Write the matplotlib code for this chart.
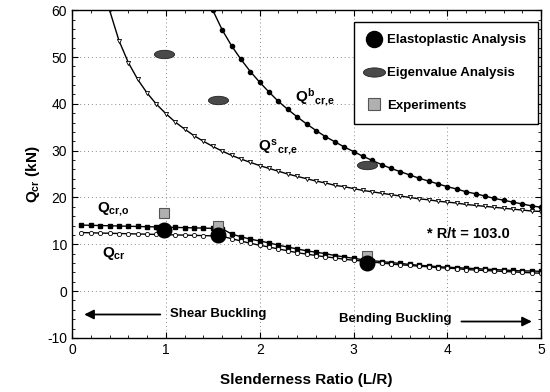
import numpy as np
import matplotlib
matplotlib.use('Agg')
import matplotlib.pyplot as plt
from matplotlib.path import Path
from matplotlib.transforms import Affine2D

plt.rcParams['font.family'] = ['Liberation Sans', 'DejaVu Sans']
plt.rcParams['mathtext.fontset'] = 'custom'
plt.rcParams['mathtext.rm'] = 'Liberation Sans:bold'
plt.rcParams['mathtext.it'] = 'Liberation Sans:bold'
plt.rcParams['mathtext.bf'] = 'Liberation Sans:bold'
plt.rcParams['axes.unicode_minus'] = False

# elastic shear buckling curve
xs = [0.4, 0.5, 0.6, 0.7, 0.8, 0.9, 1.0, 1.1, 1.2, 1.3, 1.4, 1.5, 1.6, 1.7, 1.8, 1.9,
      2.0, 2.1, 2.2, 2.3, 2.4, 2.5, 2.6, 2.7, 2.8, 2.9, 3.0, 3.1, 3.2, 3.3, 3.4, 3.5,
      3.6, 3.7, 3.8, 3.9, 4.0, 4.1, 4.2, 4.3, 4.4, 4.5, 4.6, 4.7, 4.8, 4.9, 5.0]
q_shear = [60.0, 53.5, 48.8, 45.2, 42.3, 39.9, 37.9, 36.1, 34.6, 33.2, 32.0, 30.9, 29.9,
           29.0, 28.2, 27.5, 26.8, 26.2, 25.6, 25.0, 24.5, 24.0, 23.5, 23.1, 22.6, 22.3,
           21.9, 21.5, 21.2, 20.9, 20.6, 20.3, 20.0, 19.7, 19.5, 19.2, 19.0, 18.8, 18.5,
           18.3, 18.1, 17.9, 17.7, 17.5, 17.3, 17.1, 17.0]

# elastic bending buckling curve
xb = [1.5, 1.6, 1.7, 1.8, 1.9, 2.0, 2.1, 2.2, 2.3, 2.4, 2.5, 2.6, 2.7, 2.8, 2.9, 3.0,
      3.1, 3.2, 3.3, 3.4, 3.5, 3.6, 3.7, 3.8, 3.9, 4.0, 4.1, 4.2, 4.3, 4.4, 4.5, 4.6,
      4.7, 4.8, 4.9, 5.0]
q_bend = [60.0, 55.8, 52.4, 49.5, 46.9, 44.6, 42.5, 40.5, 38.8, 37.2, 35.7, 34.3, 33.0,
          31.9, 30.8, 29.8, 28.8, 27.9, 27.0, 26.2, 25.5, 24.8, 24.1, 23.5, 22.9, 22.3,
          21.8, 21.2, 20.8, 20.3, 19.8, 19.4, 19.0, 18.6, 18.2, 17.9]

# inelastic curves
xl = [0.1, 0.2, 0.3, 0.4, 0.5, 0.6, 0.7, 0.8, 0.9, 1.0, 1.1, 1.2, 1.3, 1.4, 1.5, 1.6,
      1.7, 1.8, 1.9, 2.0, 2.1, 2.2, 2.3, 2.4, 2.5, 2.6, 2.7, 2.8, 2.9, 3.0, 3.1, 3.2,
      3.3, 3.4, 3.5, 3.6, 3.7, 3.8, 3.9, 4.0, 4.1, 4.2, 4.3, 4.4, 4.5, 4.6, 4.7, 4.8,
      4.9, 5.0]
q_cro = [14.1, 14.05, 14.0, 13.95, 13.9, 13.85, 13.8, 13.75, 13.7, 13.65, 13.6, 13.55,
         13.5, 13.45, 13.4, 13.3, 12.2, 11.6, 11.1, 10.7, 10.3, 9.8, 9.4, 9.0, 8.6, 8.3,
         8.0, 7.6, 7.3, 7.0, 6.7, 6.5, 6.3, 6.1, 5.9, 5.7, 5.5, 5.4, 5.2, 5.1, 5.0, 4.9,
         4.8, 4.7, 4.6, 4.5, 4.4, 4.3, 4.3, 4.2]
q_cr = [12.5, 12.45, 12.4, 12.35, 12.3, 12.25, 12.2, 12.15, 12.1, 12.05, 12.0, 11.95,
        11.9, 11.85, 11.8, 11.7, 11.2, 10.7, 10.2, 9.8, 9.4, 9.0, 8.6, 8.2, 7.9, 7.6,
        7.3, 7.1, 6.8, 6.6, 6.4, 6.2, 6.0, 5.8, 5.6, 5.5, 5.3, 5.2, 5.0, 4.9, 4.8, 4.6,
        4.5, 4.4, 4.3, 4.2, 4.1, 4.0, 3.9, 3.8]

# discrete results
pt_x = [0.98, 1.56, 3.14]
elastoplastic = [13.1, 11.9, 6.0]
eigenvalue = [50.7, 40.9, 26.9]
experiments = [16.6, 13.8, 7.5]

ellipse = Path.unit_circle().transformed(Affine2D().scale(2.4, 1.0))

fig = plt.figure(figsize=(5.5, 3.92), dpi=100)
ax = fig.add_axes([0.131, 0.138, 0.853, 0.836])

ax.plot(xs, q_shear, '-', color='black', lw=1.0, marker='v', ms=3.0,
        mfc='white', mec='black', mew=0.6)
ax.plot(xb, q_bend, '-', color='black', lw=1.0, marker='o', ms=3.0,
        mfc='black', mec='black')
ax.plot(xl, q_cro, '-', color='black', lw=1.0, marker='s', ms=2.8,
        mfc='black', mec='black')
ax.plot(xl, q_cr, '-', color='black', lw=1.0, marker='o', ms=3.0,
        mfc='white', mec='black', mew=0.6)

ax.plot(pt_x, experiments, 's', ms=7.5, mfc='#b0b0b0', mec='#555555', mew=0.8,
        label='Experiments', zorder=4)
ax.plot(pt_x, elastoplastic, 'o', ms=10.5, mfc='black', mec='black',
        label='Elastoplastic Analysis', zorder=5)
ax.plot(pt_x, eigenvalue, marker=ellipse, ls='none', ms=14.5, mfc='#4a4a4a',
        mec='#222222', mew=0.6, label='Eigenvalue Analysis', zorder=5)

h, l = ax.get_legend_handles_labels()
order = [1, 2, 0]
leg = ax.legend([h[i] for i in order], [l[i] for i in order], loc='upper right',
                bbox_to_anchor=(0.994, 0.965), fancybox=False, edgecolor='black',
                framealpha=1, prop={'weight': 'bold', 'size': 9.5},
                labelspacing=1.55, handletextpad=0.5, borderpad=0.95,
                borderaxespad=0.0, handlelength=1.0, numpoints=1, markerscale=1.1)
leg.get_frame().set_linewidth(1.0)

ax.set_xlim(0, 5)
ax.set_ylim(-10, 60)
ax.set_xticks([0, 1, 2, 3, 4, 5])
ax.set_yticks([-10, 0, 10, 20, 30, 40, 50, 60])
ax.set_xticks(np.arange(0, 5.01, 0.2), minor=True)
ax.set_yticks(np.arange(-10, 60.1, 2), minor=True)
ax.tick_params(which='both', direction='in', top=True, right=True, labelsize=10)
ax.tick_params(which='major', length=4)
ax.tick_params(which='minor', length=2)
ax.grid(True, which='major', ls=(0, (1, 3)), color='#888888', lw=0.7)
for s in ax.spines.values():
    s.set_linewidth(1.0)

ax.set_xlabel('Slenderness Ratio (L/R)', fontsize=11, fontweight='bold', labelpad=12)
ax.set_ylabel('$Q_{cr}$ (kN)', fontsize=11, fontweight='bold', labelpad=4)

ax.text(2.38, 40.5, '$Q^{b}{}_{cr{,}e}$', fontsize=11)
ax.text(1.98, 30.0, '$Q^{s}{}_{cr{,}e}$', fontsize=11)
ax.text(0.27, 16.8, '$Q_{cr{,}o}$', fontsize=11)
ax.text(0.32, 7.2, '$Q_{cr}$', fontsize=11)
ax.text(3.78, 12.2, '* R/t = 103.0', fontsize=10.5, fontweight='bold', va='center')

ax.annotate('', xy=(0.1, -5), xytext=(0.97, -5),
            arrowprops=dict(arrowstyle='-|>', color='black', lw=1.3,
                            mutation_scale=14))
ax.text(1.04, -5, 'Shear Buckling', fontsize=9.5, fontweight='bold', va='center')
ax.annotate('', xy=(4.93, -6.5), xytext=(4.12, -6.5),
            arrowprops=dict(arrowstyle='-|>', color='black', lw=1.3,
                            mutation_scale=14))
ax.text(2.84, -6.0, 'Bending Buckling', fontsize=9.5, fontweight='bold', va='center')

fig.savefig('out.png', dpi=100)
